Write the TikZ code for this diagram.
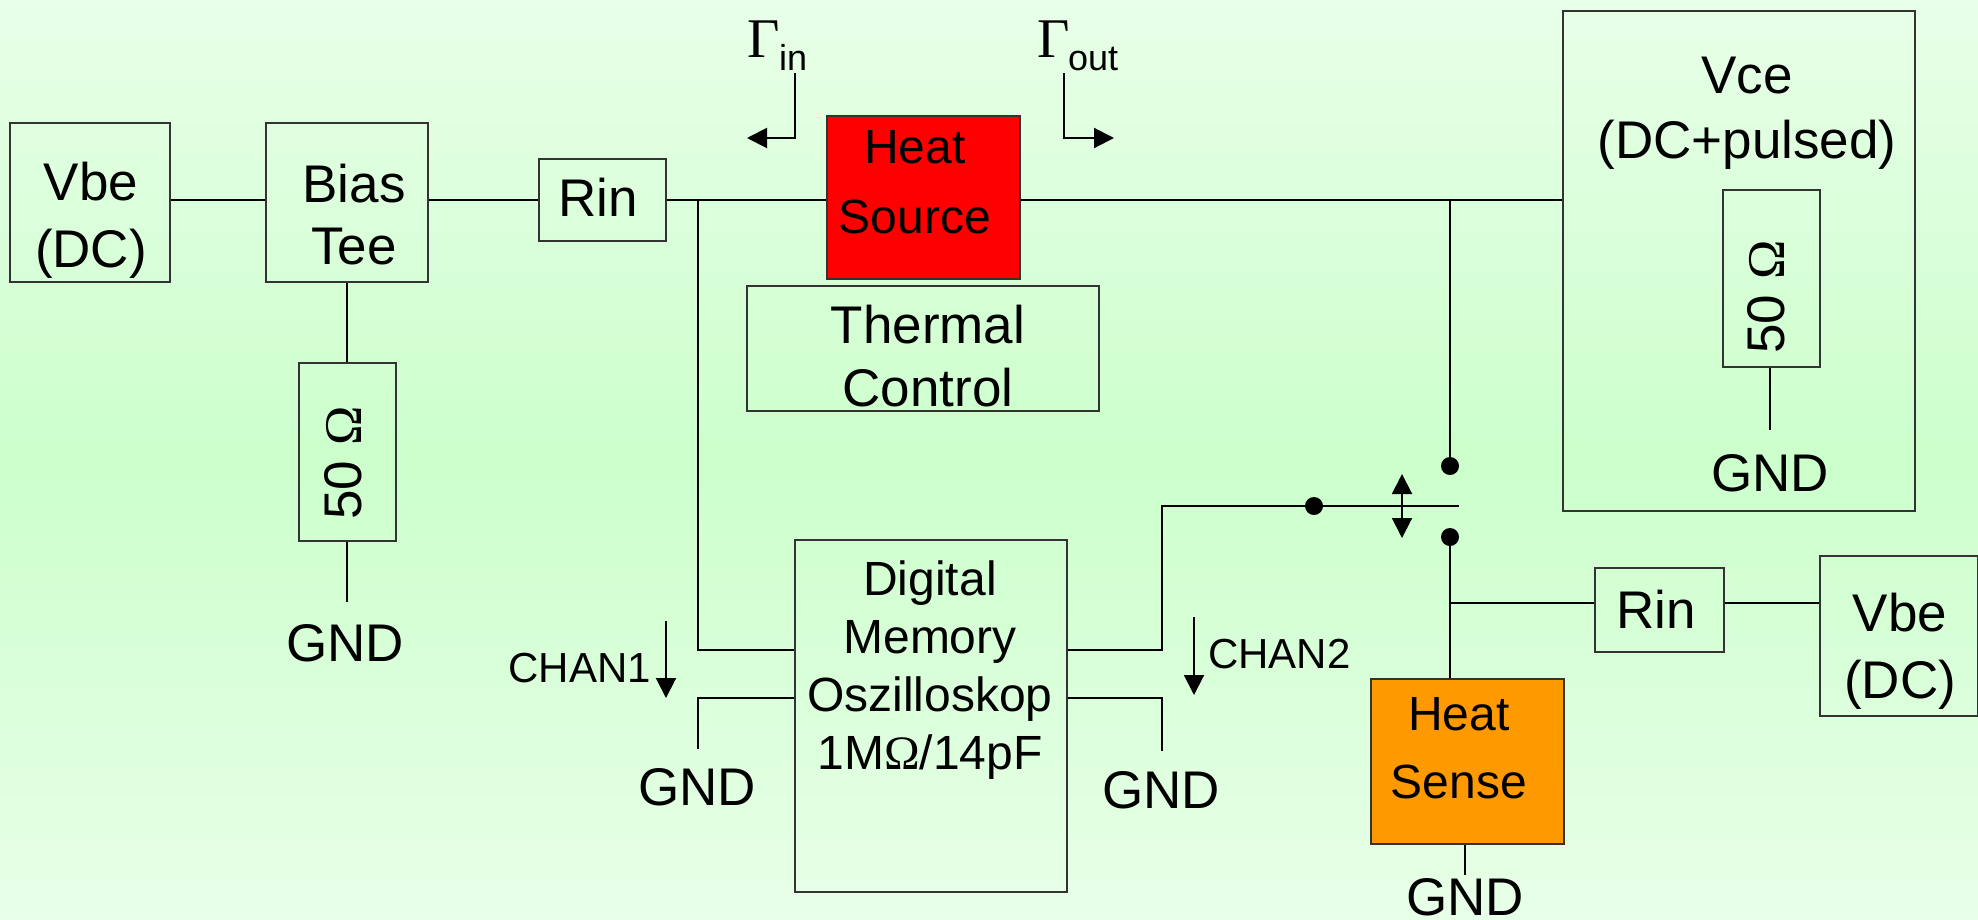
\documentclass[tikz,border=0pt]{standalone}
\usepackage{fontspec}
\setmainfont{Liberation Sans}
\newfontfamily\symfont{Liberation Serif}
\usetikzlibrary{arrows.meta}
\definecolor{heatorange}{HTML}{FF9900}
\tikzset{
 x=1pt,y=-1pt,
 wire/.style={line width=2pt,draw=black},
 tip/.style={wire,-{Triangle[length=20pt,width=20pt]}},
 boxn/.style={draw=black!80,line width=2pt,inner sep=0pt,anchor=north west},
 txt/.style={font=\fontsize{48}{58}\selectfont,align=center,inner sep=0pt,text=black},
 big/.style={font=\fontsize{53}{67}\selectfont,align=center,inner sep=0pt,text=black},
 small/.style={font=\fontsize{42}{48}\selectfont,inner sep=0pt},
 dot/.style={circle,fill=black,inner sep=0pt,minimum size=18pt},
}
\newcommand{\Om}{{\symfont Ω}}
\begin{document}
\begin{tikzpicture}
\useasboundingbox (0,0) rectangle (1978,919);
\shade[top color=green!9!white,bottom color=green!9!white,middle color=green!20!white] (0,0) rectangle (1978,919);
% boxes
\node[boxn,minimum width=160pt,minimum height=159pt] (vbe1) at (9,122) {};
\node[boxn,minimum width=162pt,minimum height=159pt] (bias) at (265,122) {};
\node[boxn,minimum width=127pt,minimum height=82pt] (rin1) at (538,158) {};
\node[boxn,fill=red,minimum width=193pt,minimum height=163pt] (heat) at (826,115) {};
\node[boxn,minimum width=352pt,minimum height=125pt] (therm) at (746,285) {};
\node[boxn,minimum width=352pt,minimum height=500pt] (vce) at (1562,10) {};
\node[boxn,minimum width=97pt,minimum height=177pt] (r50b) at (1722,189) {};
\node[boxn,minimum width=97pt,minimum height=178pt] (r50a) at (298,362) {};
\node[boxn,minimum width=272pt,minimum height=352pt] (osc) at (794,539) {};
\node[boxn,minimum width=129pt,minimum height=84pt] (rin2) at (1594,567) {};
\node[boxn,minimum width=158pt,minimum height=160pt] (vbe2) at (1819,555) {};
\node[boxn,fill=heatorange,minimum width=193pt,minimum height=165pt] (sense) at (1370,678) {};
% free ends and junctions
\coordinate (j1) at (698,200);
\coordinate (j1b) at (698,650);
\coordinate (g1a) at (698,698);
\coordinate (g1b) at (698,749);
\coordinate (o2) at (1162,650);
\coordinate (o2b) at (1162,506);
\coordinate (swend) at (1459,506);
\coordinate (j2) at (1450,200);
\coordinate (g2a) at (1162,698);
\coordinate (g2b) at (1162,751);
\coordinate (j3) at (1450,603);
\coordinate (g3) at (347,602);
\coordinate (g4) at (1770,430);
\coordinate (g5) at (1465,875);
\node[dot] (d1) at (1450,466) {};
\node[dot] (d2) at (1450,537) {};
\node[dot] (d3) at (1314,506) {};
% wires
\draw[wire] (vbe1.east |- j1) -- (j1 -| bias.west);
\draw[wire] (bias.east |- j1) -- (j1 -| rin1.west);
\draw[wire] (rin1.east |- j1) -- (j1 -| heat.west);
\draw[wire] (heat.east |- j1) -- (j1 -| vce.west);
\draw[wire] (j1) -- (j1b) -- (j1b -| osc.west);
\draw[wire] (g1a -| osc.west) -- (g1a) -- (g1b);
\draw[wire] (o2 -| osc.east) -- (o2) -- (o2b) -- (swend);
\draw[wire] (g2a -| osc.east) -- (g2a) -- (g2b);
\draw[wire] (j2) -- (d1.center);
\draw[wire] (d2.center) -- (sense.north -| d2);
\draw[wire] (j3) -- (j3 -| rin2.west);
\draw[wire] (rin2.east |- j3) -- (j3 -| vbe2.west);
\draw[wire] (bias.south -| g3) -- (r50a.north -| g3);
\draw[wire] (r50a.south -| g3) -- (g3);
\draw[wire] (r50b.south -| g4) -- (g4);
\draw[wire] (sense.south -| g5) -- (g5);
% arrows
\coordinate (ga) at (795,73); \coordinate (gb) at (795,138); \coordinate (gc) at (747,138);
\coordinate (gd) at (1064,73); \coordinate (ge) at (1064,138); \coordinate (gf) at (1114,138);
\draw[tip] (ga) -- (gb) -- (gc);
\draw[tip] (gd) -- (ge) -- (gf);
\coordinate (c1a) at (666,621); \coordinate (c1b) at (666,698);
\coordinate (c2a) at (1194,617); \coordinate (c2b) at (1194,695);
\draw[tip] (c1a) -- (c1b);
\draw[tip] (c2a) -- (c2b);
\coordinate (su) at (1402,474); \coordinate (sd) at (1402,538);
\draw[wire,{Triangle[length=20pt,width=20pt]}-{Triangle[length=20pt,width=20pt]}] (su) -- (sd);
% labels
\node[big] (t1) at (91,220) {Vbe\\(DC)};
\node[big,font=\fontsize{53}{62}\selectfont] (t2) at (354,215) {Bias\\Tee};
\node[big] (t3) at (598,197) {Rin};
\node[txt,font=\fontsize{48}{70}\selectfont] (t4) at (915,182) {Heat\\Source};
\node[big,font=\fontsize{53}{63}\selectfont] (t5) at (928,356) {Thermal\\Control};
\node[big,font=\fontsize{53}{65}\selectfont] (t6) at (1747,113) {Vce\\(DC+pulsed)};
\node[big,rotate=90,anchor=base] (t7) at (1784,297) {50 \Om};
\node[big,rotate=90,anchor=base] (t8) at (361,463) {50 \Om};
\node[txt] (t9) at (930,670) {Digital\\Memory\\Oszilloskop\\1M\Om/14pF};
\node[big] (t10) at (1656,609) {Rin};
\node[big] (t11) at (1900,651) {Vbe\\(DC)};
\node[txt,font=\fontsize{48}{68}\selectfont] (t12) at (1459,748) {Heat\\Sense};
\node[big] (n1) at (345,643) {GND};
\node[big] (n2) at (1770,473) {GND};
\node[big] (n3) at (697,787) {GND};
\node[big] (n4) at (1161,790) {GND};
\node[big] (n5) at (1465,897) {GND};
\node[small,anchor=east] (ch1) at (651,668) {CHAN1};
\node[small,anchor=west] (ch2) at (1208,654) {CHAN2};
\node[inner sep=0pt,anchor=base west,font=\fontsize{56}{56}\selectfont\symfont] (g1) at (747,57) {Γ};
\node[inner sep=0pt,anchor=base west,font=\fontsize{36}{36}\selectfont] (i1) at (779,70) {in};
\node[inner sep=0pt,anchor=base west,font=\fontsize{56}{56}\selectfont\symfont] (g2) at (1037,57) {Γ};
\node[inner sep=0pt,anchor=base west,font=\fontsize{36}{36}\selectfont] (i2) at (1068,70) {out};
\end{tikzpicture}
\end{document}
